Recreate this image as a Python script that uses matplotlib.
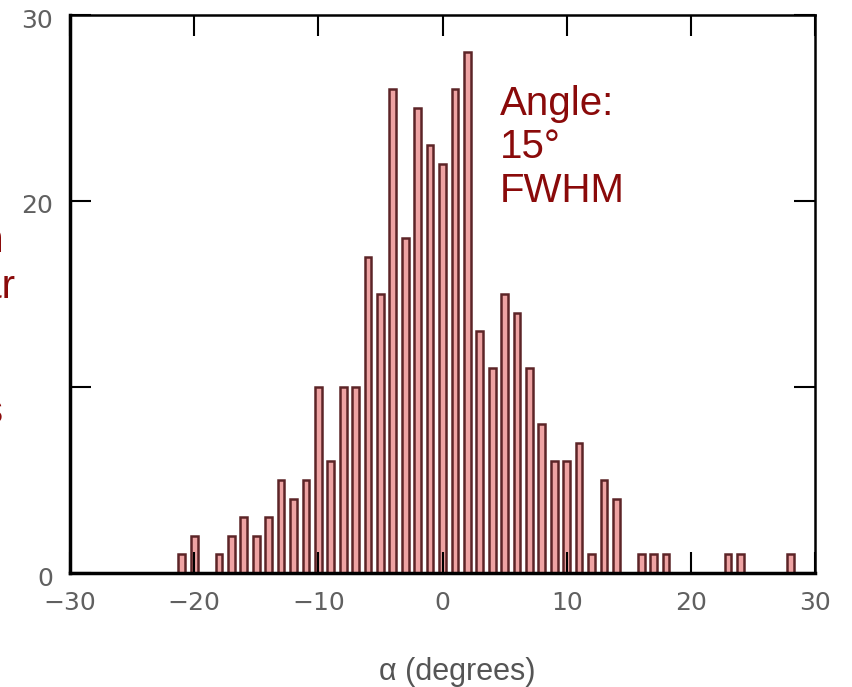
import numpy as np
import matplotlib.pyplot as plt
from matplotlib.transforms import ScaledTranslation

# histogram of angles, one bar per degree
angles = list(range(-21, 29))
counts = [1, 2, 0, 1, 2, 3, 2, 3, 5, 4, 5, 10,      # -21 .. -10
          6, 10, 10, 17, 15, 26, 18, 25, 23,        # -9 .. -1
          22, 26, 28, 13, 11, 15, 14, 11, 8, 6, 6,  # 0 .. 10
          7, 1, 5, 4, 0, 1, 1, 1, 0, 0, 0, 0,       # 11 .. 22
          1, 1, 0, 0, 0, 1]                         # 23 .. 28

x_ticks = [-30, -20, -10, 0, 10, 20, 30]
y_ticks = [0, 10, 20, 30]
y_ticklabels = ['0', '', '20', '30']

note_lines = ['Angle:', '15\u00b0', 'FWHM']
side_lines = ['Population', 'per angular', 'bins']
x_label = '\u03b1 (degrees)'

W, H = 852, 687
fig = plt.figure(figsize=(W / 100, H / 100), dpi=100)
ax = fig.add_axes([70 / W, 1 - 573 / H, 745 / W, 558 / H])

ax.bar(angles, counts, width=0.55, color='#eea3a3', edgecolor='#5c2427',
       linewidth=1.8)

ax.set_xlim(-30, 30)
ax.set_ylim(0, 30)
ax.set_xticks(x_ticks)
ax.set_xticklabels([str(v).replace('-', '\u2212') for v in x_ticks])
ax.set_yticks(y_ticks)
ax.set_yticklabels(y_ticklabels)
ax.tick_params(direction='in', length=15, width=1.5, color='black',
               top=True, right=True, labelsize=18, labelcolor='#606060')
ax.tick_params(axis='x', pad=13)
ax.tick_params(axis='y', pad=12)
# y labels sit a little below their ticks in the original
shift = ScaledTranslation(0, -3 / 100, fig.dpi_scale_trans)
for lab in ax.get_yticklabels():
    lab.set_transform(lab.get_transform() + shift)
for side in ['left', 'bottom']:
    ax.spines[side].set_linewidth(2.5)
for side in ['top', 'right']:
    ax.spines[side].set_linewidth(1.8)

# red note inside the plot
red = '#8a0a0a'
for i, line in enumerate(note_lines):
    fig.text(500 / W, 1 - (115 + 43.5 * i) / H, line, color=red,
             fontsize=29, family='Liberation Sans', va='baseline')

# label cut off at the left edge, as in the original
for line, xr, yb in zip(side_lines, [4, 15, 4], [252, 298, 423]):
    fig.text(xr / W, 1 - yb / H, line, color=red, fontsize=29,
             family='Liberation Sans', ha='right', va='baseline')

fig.text(457 / W, 1 - 680 / H, x_label, color='#555555', fontsize=22,
         family='Liberation Sans', ha='center', va='baseline')

fig.savefig('out.png', dpi=100)
